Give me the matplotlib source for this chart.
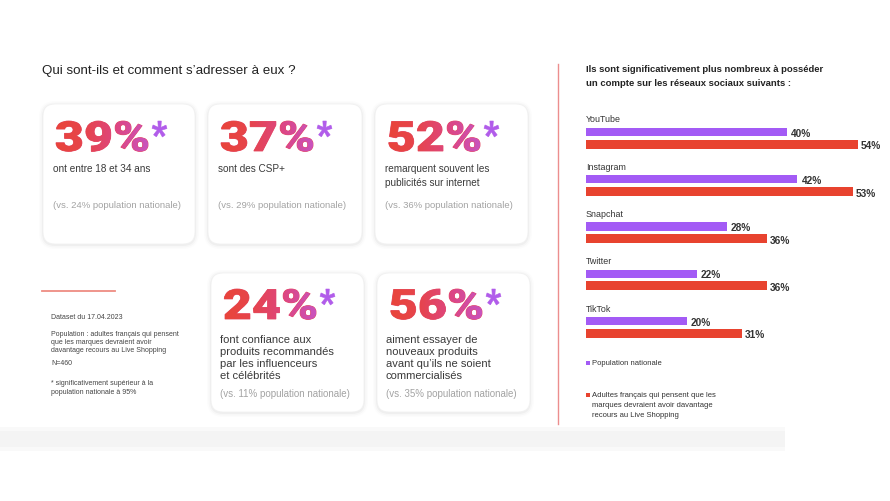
import numpy as np
import matplotlib as mpl; mpl.use('Agg'); import matplotlib.pyplot as plt
from matplotlib.textpath import TextPath
from matplotlib.font_manager import FontProperties, findfont
from matplotlib.patches import PathPatch, FancyBboxPatch, Rectangle
from matplotlib.colors import LinearSegmentedColormap
from matplotlib.transforms import Affine2D
mpl.rcParams.update({'font.family':['Liberation Sans','DejaVu Sans'],'font.size':7})

# --- data ---
stat_values = [39, 37, 52, 24, 56]
stat_labels = ['ont entre 18 et 34 ans', 'sont des CSP+', 'remarquent souvent les\npublicités sur internet',
               'font confiance aux\nproduits recommandés\npar les influenceurs\net célébrités',
               'aiment essayer de\nnouveaux produits\navant qu\u2019ils ne soient\ncommercialisés']
stat_national = [24, 29, 36, 11, 35]
networks = ['YouTube', 'Instagram', 'Snapchat', 'Twitter', 'TikTok']
pop_nationale = [40, 42, 28, 22, 20]
adultes_live = [54, 53, 36, 36, 31]
notes = ['Dataset du 17.04.2023',
         'Population : adultes français qui pensent\nque les marques devraient avoir\ndavantage recours au Live Shopping',
         'N=460', '* significativement supérieur à la\npopulation nationale à 95%']

PURPLE = '#A35BF5'; RED = '#E8432F'; GREY = '#a3a3a3'

fig = plt.figure(figsize=(8.9, 5.02), dpi=100, facecolor='white')
ax = fig.add_axes([0, 0, 1, 1]); ax.set_xlim(0, 890); ax.set_ylim(502, 0); ax.axis('off')

def lines(x, y, txt, dy, **kw):
    for i, t in enumerate(txt.split('\n')):
        ax.text(x, y + i*dy, t, va='center', ha='left', **kw)

# bottom grey band
ax.add_patch(Rectangle((0, 428), 785, 24, color='#f9f9f9', lw=0, zorder=0))
ax.add_patch(Rectangle((0, 432), 785, 16, color='#f4f4f4', lw=0, zorder=0))

ax.text(42, 71, 'Qui sont-ils et comment s\u2019adresser à eux ?', fontsize=9.6, color='#222222', va='center')

# cards
cards = [(43, 105, 195, 245), (208, 105, 362, 245), (375, 105, 528, 245), (211, 274, 364, 413), (377, 274, 530, 413)]
fp_num = FontProperties(family='Roboto', weight='black')
cmap = LinearSegmentedColormap.from_list('g', ['#E9453A', '#E6444E', '#DD4683', '#C953BE'])
grad = np.linspace(0, 1, 256)[None, :]
ref = TextPath((0, 0), '39%', size=1, prop=fp_num).get_extents()
star = TextPath((0, 0), '*', size=1, prop=fp_num).get_extents()

def big_number(x, base, s, cap=30, width=92):
    tp = TextPath((0, 0), s, size=1, prop=fp_num)
    kx, ky = width/ref.width, cap/ref.y1
    tr = Affine2D().translate(-ref.x0, 0).scale(kx, -ky).translate(x, base) + ax.transData
    ax.add_patch(PathPatch(tp, transform=tr, fc='#E4455F', ec='#E4455F', lw=0.6, zorder=3))
    patch = PathPatch(tp, transform=tr, fc='none', ec='none'); ax.add_patch(patch)
    im = ax.imshow(grad, cmap=cmap, extent=[x, x+width, base+3, base-cap-3], aspect='auto', zorder=3.5, interpolation='bilinear')
    im.set_clip_path(patch)
    sp = TextPath((0, 0), '*', size=1, prop=fp_num)
    sx, sy = 15/star.width, 16/star.height
    tr2 = Affine2D().translate(-star.x0, -star.y1).scale(sx, -sy).translate(x+width+4, base-cap) + ax.transData
    ax.add_patch(PathPatch(sp, transform=tr2, fc='#B15CEA', ec='#B15CEA', lw=0.4, zorder=3))

for i, ((x0, y0, x1, y1), v, lab, nat) in enumerate(zip(cards, stat_values, stat_labels, stat_national)):
    for g, a in [(4, 0.012), (2.5, 0.02), (1, 0.03)]:
        ax.add_patch(FancyBboxPatch((x0-g, y0-g+1), x1-x0+2*g, y1-y0+2*g, boxstyle='round,pad=0,rounding_size=%g' % (12+g),
                                    fc='black', ec='none', alpha=a, zorder=1))
    ax.add_patch(FancyBboxPatch((x0, y0), x1-x0, y1-y0, boxstyle='round,pad=0,rounding_size=12', fc='white', ec='#f1f1f1', lw=0.6, zorder=2))
    row2 = i >= 3
    base = 320 if row2 else 152
    big_number(x0+13, base, f'{v}%')
    if row2:
        lines(x0+9, 340, lab, 12, fontsize=8, color='#3a3a3a', zorder=4)
        ax.text(x0+9, 394, f'(vs. {nat}% population nationale)', fontsize=7, color=GREY, va='center', zorder=4)
    else:
        lines(x0+10, 169, lab, 14, fontsize=7.2, color='#3a3a3a', zorder=4)
        ax.text(x0+10, 206, f'(vs. {nat}% population nationale)', fontsize=6.8, color=GREY, va='center', zorder=4)

# left notes
ax.plot([42, 115], [292, 292], color='#EE8C82', lw=1.3)
ax.text(51, 318, notes[0], fontsize=5, color='#444444', va='center')
lines(51, 335, notes[1], 7.8, fontsize=5, color='#444444')
ax.text(51, 364, notes[2], fontsize=5, color='#444444', va='center')
lines(51, 384, notes[3], 8.5, fontsize=5, color='#444444')

# divider
ax.plot([558, 558], [65, 425], color='#EC8E8E', lw=1)

# right title
lines(586, 70, 'Ils sont significativement plus nombreux à posséder\nun compte sur les réseaux sociaux suivants :', 14,
      fontsize=6.8, fontweight='bold', color='#222222')

# bar chart
bx = fig.add_axes([586/890, 1-350/502, 302/890, 245/502]); bx.axis('off')
pos = np.arange(len(networks))
bx.set_xlim(0, 60); bx.set_ylim((350-120)/47.25, (105-120)/47.25)
bx.barh(pos+0.275, pop_nationale, height=0.17, color=PURPLE, left=0)
bx.barh(pos+0.53, adultes_live, height=0.19, color=RED, left=0)
for p, name, a, b in zip(pos, networks, pop_nationale, adultes_live):
    bx.text(0, p, name, fontsize=6.4, color='#333333', va='center')
    bx.text(a+0.8, p+0.29, f'{a}%', fontsize=7.3, fontweight='bold', color='#333333', va='center')
    bx.text(b+0.6, p+0.56, f'{b}%', fontsize=7.3, fontweight='bold', color='#333333', va='center')

# legend
ax.add_patch(Rectangle((586, 362), 4, 4, color=PURPLE, lw=0))
ax.text(592, 364, 'Population nationale', fontsize=5.5, color='#333333', va='center')
ax.add_patch(Rectangle((586, 394), 4, 4, color=RED, lw=0))
lines(592, 396, 'Adultes français qui pensent que les\nmarques devraient avoir davantage\nrecours au Live Shopping', 10,
      fontsize=5.5, color='#333333')

ax.set_xlim(0, 890); ax.set_ylim(502, 0)
fig.savefig('out.png', dpi=100, facecolor='white')
